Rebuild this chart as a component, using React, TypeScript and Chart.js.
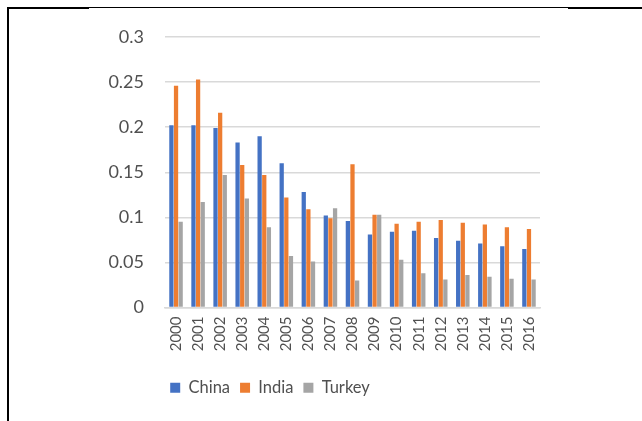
import React, { useEffect, useRef } from "react";
import { Chart, registerables } from "chart.js";

Chart.register(...registerables);

const years = ["2000","2001","2002","2003","2004","2005","2006","2007","2008","2009","2010","2011","2012","2013","2014","2015","2016"];
const china = [0.202,0.202,0.199,0.183,0.19,0.16,0.128,0.102,0.096,0.081,0.084,0.085,0.077,0.074,0.071,0.068,0.065];
const india = [0.246,0.253,0.216,0.158,0.147,0.122,0.109,0.099,0.159,0.103,0.093,0.095,0.097,0.094,0.092,0.089,0.087];
const turkey = [0.095,0.117,0.147,0.121,0.089,0.057,0.051,0.11,0.03,0.103,0.053,0.038,0.031,0.036,0.034,0.032,0.031];
const seriesNames = ["China", "India", "Turkey"];
const seriesColors = ["#4472C4", "#ED7D31", "#A5A5A5"];

export default function App() {
  const ref = useRef<HTMLCanvasElement | null>(null);
  useEffect(() => {
    if (!ref.current) return;
    const data = [china, india, turkey];
    const chart = new Chart(ref.current, {
      type: "bar",
      data: {
        labels: years,
        datasets: seriesNames.map((n, i) => ({
          label: n,
          data: data[i],
          backgroundColor: seriesColors[i],
          borderWidth: 0,
          categoryPercentage: 0.63,
          barPercentage: 0.92,
        })),
      },
      options: {
        animation: false,
        responsive: false,
        maintainAspectRatio: false,
        layout: { padding: { left: 0, right: 102, top: 37, bottom: 15 } },
        plugins: {
          tooltip: { enabled: false },
          legend: {
            position: "bottom",
            labels: {
              boxWidth: 10,
              boxHeight: 10,
              padding: 10,
              color: "#505050",
              font: { family: "Lato", size: 16.5 },
            },
          },
        },
        scales: {
          x: {
            grid: { display: false, drawTicks: false },
            border: { display: true, color: "#D9D9D9", width: 1.5 },
            ticks: {
              color: "#505050",
              font: { family: "Lato", size: 15 },
              minRotation: 90,
              maxRotation: 90,
              padding: 9,
              autoSkip: false,
            },
            afterFit: (s: any) => { s.height = 62; },
          },
          y: {
            min: 0,
            max: 0.3,
            grid: { color: "#D9D9D9", lineWidth: 1.5, drawTicks: false },
            border: { display: false },
            ticks: {
              stepSize: 0.05,
              color: "#505050",
              font: { family: "Lato", size: 18 },
              padding: 21,
              callback: (v: any) => String(Math.round(Number(v) * 100) / 100),
            },
            afterFit: (s: any) => { s.width = 165; },
          },
        },
      },
    });
    return () => chart.destroy();
  }, []);
  return (
    <div style={{ position: "absolute", left: 0, top: 0, width: 642, height: 421, background: "#fff" }}>
      <canvas ref={ref} width={642} height={421} style={{ position: "absolute", left: 0, top: 0, width: 642, height: 421 }} />
      <div style={{ position: "absolute", left: 7, top: 7, width: 82, height: 2, background: "#000" }} />
      <div style={{ position: "absolute", left: 89, top: 7, width: 480, height: 1, background: "#000" }} />
      <div style={{ position: "absolute", left: 568, top: 7, width: 74, height: 2, background: "#000" }} />
      <div style={{ position: "absolute", left: 7, top: 7, width: 2, height: 414, background: "#000" }} />
    </div>
  );
}
